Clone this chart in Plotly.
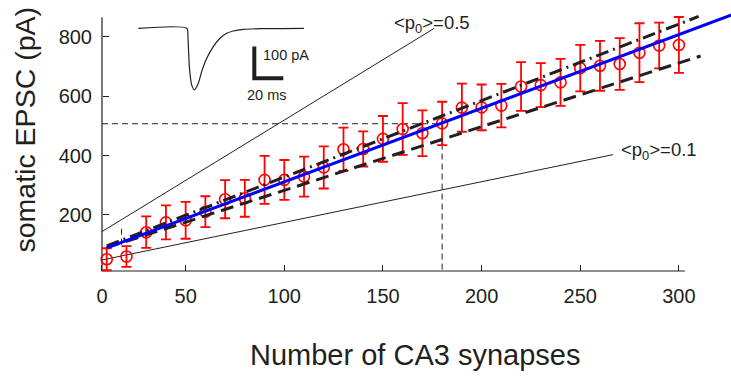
import plotly.graph_objects as go

# ---------------- data ----------------
synapses = [10, 20, 30, 40, 50, 60, 70, 80, 90, 100,
            110, 120, 130, 140, 150, 160, 170, 180, 190, 200,
            210, 220, 230, 240, 250, 260, 270, 280, 290, 300]
epsc_mean = [51, 60, 142, 175, 182, 211, 253, 256, 318, 318,
             329, 360, 421, 422, 456, 489, 475, 508, 561, 562,
             568, 632, 637, 646, 694, 702, 708, 746, 770, 772]
epsc_err = [37, 35, 53, 57, 62, 52, 64, 62, 81, 67,
            67, 71, 73, 59, 77, 87, 77, 73, 81, 77,
            73, 82, 74, 79, 78, 84, 87, 99, 77, 94]

fit_x = [10, 330]
fit_y = [89, 881]
upper_x = [10, 310]
upper_y = [96, 868]
lower_x = [10, 311]
lower_y = [90, 735]
p05_x = [7.6, 176]
p05_y = [144, 828]
p01_x = [7.6, 266.6]
p01_y = [48.5, 403]
cross_x = [7.6, 180, 180]
cross_y = [507, 507, 11.4]
small_cross_x = [17.5, 17.5]
small_cross_y = [100, 158]

x_tickvals = [7.6, 50, 100, 150, 200, 250, 300]
x_ticktext = ["0", "50", "100", "150", "200", "250", "300"]
y_tickvals = [200, 400, 600, 800]
y_ticktext = ["200", "400", "600", "800"]

axis_x = [7.6, 7.6, 303]
axis_y = [865, 11.4, 11.4]

# inset EPSC trace (ms, pA)
inset_t = [0, 33.4, 34.3, 35.2, 36.8, 38.6, 41.4, 43.7, 47.2, 51.7,
           56.3, 61.0, 65.5, 72.4, 84.0, 114.3]
inset_i = [0, 0, -35, -115, -170, -185, -165, -130, -90, -55,
           -30, -15, -8, -3, -1, 0]
bar_t = [80, 80, 100]
bar_i = [-55, -150, -150]

# ---------------- layout helpers ----------------
W, H = 731, 381
L, R, T, B = 100, 0, 0, 108
PW, PH = W - L - R, H - T - B
INK = "#231f20"
RED = "#ff0000"
FONT = "Liberation Sans, Arial, Helvetica, sans-serif"


def px(xp):
    return (xp - L) / PW


def py(yp):
    return (H - B - yp) / PH


fig = go.Figure()

# thin <p0> lines
fig.add_trace(go.Scatter(x=p05_x, y=p05_y, mode="lines",
                         line=dict(color=INK, width=1), hoverinfo="skip"))
fig.add_trace(go.Scatter(x=p01_x, y=p01_y, mode="lines",
                         line=dict(color=INK, width=1), hoverinfo="skip"))
# crosshairs
fig.add_trace(go.Scatter(x=cross_x, y=cross_y, mode="lines",
                         line=dict(color=INK, width=1, dash="6px,4px"), hoverinfo="skip"))
fig.add_trace(go.Scatter(x=small_cross_x, y=small_cross_y, mode="lines",
                         line=dict(color=INK, width=1, dash="6px,4px"), hoverinfo="skip"))
# axis lines
fig.add_trace(go.Scatter(x=axis_x, y=axis_y, mode="lines",
                         line=dict(color=INK, width=1.2), hoverinfo="skip"))

# data
fig.add_trace(go.Scatter(
    x=synapses, y=epsc_mean, mode="markers",
    marker=dict(symbol="circle-open", size=11, color=RED, line=dict(width=1.6, color=RED)),
    error_y=dict(type="data", array=epsc_err, color=RED, thickness=1.8, width=5),
    hoverinfo="skip"))

# fit lines
fig.add_trace(go.Scatter(x=lower_x, y=lower_y, mode="lines",
                         line=dict(color=INK, width=3, dash="13px,7px"), hoverinfo="skip"))
fig.add_trace(go.Scatter(x=upper_x, y=upper_y, mode="lines",
                         line=dict(color=INK, width=3, dash="13px,5px,2px,5px"), hoverinfo="skip"))
fig.add_trace(go.Scatter(x=fit_x, y=fit_y, mode="lines",
                         line=dict(color="#0000ff", width=3), hoverinfo="skip"))

# inset
fig.add_trace(go.Scatter(x=inset_t, y=inset_i, mode="lines", xaxis="x2", yaxis="y2",
                         line=dict(color=INK, width=1.2, shape="spline", smoothing=0.6),
                         hoverinfo="skip"))
fig.add_trace(go.Scatter(x=bar_t, y=bar_i, mode="lines", xaxis="x2", yaxis="y2",
                         line=dict(color=INK, width=4), hoverinfo="skip"))

annotations = [
    dict(text="somatic EPSC (pA)", x=px(24), y=py(130.5), textangle=-90,
         font=dict(size=28.5, color=INK, family=FONT)),
    dict(text="Number of CA3 synapses", x=px(415), y=py(355),
         font=dict(size=29, color=INK, family=FONT)),
    dict(text="&lt;p<sub>0</sub>&gt;=0.5", x=px(392), y=py(24), xanchor="left",
         font=dict(size=18.5, color=INK, family=FONT)),
    dict(text="&lt;p<sub>0</sub>&gt;=0.1", x=px(619), y=py(151), xanchor="left",
         font=dict(size=18.5, color=INK, family=FONT)),
    dict(text="100 pA", x=px(261), y=py(55), xanchor="left",
         font=dict(size=14.5, color=INK, family=FONT)),
    dict(text="20 ms", x=px(267), y=py(95),
         font=dict(size=14.5, color=INK, family=FONT)),
]
for a in annotations:
    a.update(xref="paper", yref="paper", showarrow=False)
    a.setdefault("xanchor", "center")
    a.setdefault("yanchor", "middle")

fig.update_layout(
    width=W, height=H,
    margin=dict(l=L, r=R, t=T, b=B, pad=0, autoexpand=False),
    paper_bgcolor="white", plot_bgcolor="white",
    showlegend=False,
    font=dict(family=FONT, color=INK, size=18),
    annotations=annotations,
    xaxis=dict(range=[(L - 87) / 1.973, (W - 87) / 1.973], anchor="free", position=2 / PH,
               tickvals=x_tickvals, ticktext=x_ticktext, ticks="inside", ticklen=6,
               tickcolor=INK, tickwidth=1, showline=False, showgrid=False, zeroline=False,
               automargin=False,
               tickfont=dict(size=20, color=INK, family=FONT), ticklabelstandoff=11),
    yaxis=dict(range=[(274.4 - (H - B)) / 0.2972, 274.4 / 0.2972], anchor="free", position=2 / PW,
               tickvals=y_tickvals, ticktext=y_ticktext, ticks="inside", ticklen=6,
               tickcolor=INK, tickwidth=1, showline=False, showgrid=False, zeroline=False,
               automargin=False,
               tickfont=dict(size=20, color=INK, family=FONT), ticklabelstandoff=10),
    xaxis2=dict(domain=[px(130), px(310)], range=[-5.72, 118.4], anchor="y2", visible=False),
    yaxis2=dict(domain=[py(100), py(20)], range=[-215.3, 24.9], anchor="x2", visible=False),
)

fig.write_html("out.html", config={"displayModeBar": False},
               post_script="document.body.style.margin='0px';document.body.style.overflow='hidden';")
